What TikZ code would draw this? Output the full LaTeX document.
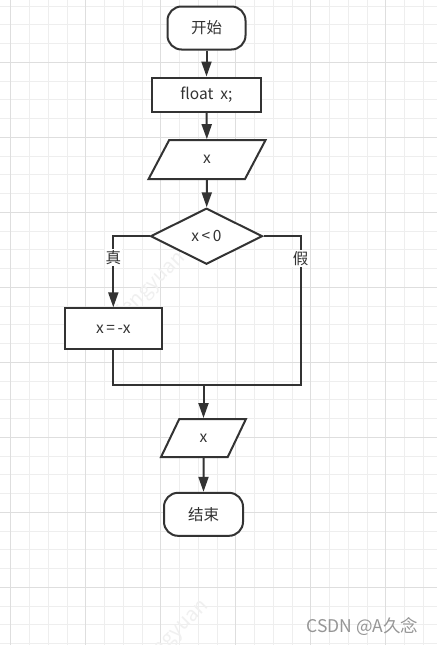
\documentclass[tikz,border=0pt]{standalone}
\usepackage{fontspec}
\setmainfont{Noto Sans CJK SC}
\usepackage{xcolor}
\usepackage{tikz}
\usetikzlibrary{shapes.geometric, arrows.meta, positioning, calc}
\definecolor{inkgray}{RGB}{51,51,51}
\definecolor{minorgrid}{RGB}{238,238,238}
\definecolor{majorgrid}{RGB}{222,222,222}
\definecolor{markgray}{RGB}{150,150,150}

\tikzset{
  base/.style={draw=inkgray, line width=2pt, fill=white, text=inkgray,
    font=\fontsize{15.5}{17}\selectfont, inner sep=0pt},
  terminal/.style={base, rectangle, rounded corners=14pt},
  procbox/.style={base, rectangle},
  iobox/.style={base, trapezium, trapezium stretches=true},
  decision/.style={base, diamond, aspect=2},
  flow/.style={draw=inkgray, line width=2pt, -{Triangle[length=15pt,width=10pt]}},
  wire/.style={draw=inkgray, line width=2pt},
  branch/.style={fill=white, text=inkgray, font=\fontsize{15.5}{17}\selectfont, inner sep=1pt}
}

\begin{document}
\begin{tikzpicture}[x=1pt, y=-1pt]
  \useasboundingbox (0,0) rectangle (437,645);
  \fill[white] (0,0) rectangle (437,645);

  % Grid
  \foreach \i in {0,...,22}
    \draw[minorgrid, line width=0.8pt] (10.7+18.75*\i,0) -- (10.7+18.75*\i,645);
  \foreach \i in {0,...,34}
    \draw[minorgrid, line width=0.8pt] (0,6.05+18.75*\i) -- (437,6.05+18.75*\i);
  \foreach \i in {0,...,5}
    \draw[majorgrid, line width=0.8pt] (10.7+75*\i,0) -- (10.7+75*\i,645);
  \foreach \i in {0,...,8}
    \draw[majorgrid, line width=0.8pt] (0,62.3+75*\i) -- (437,62.3+75*\i);

  % Faint watermarks
  \node[rotate=45, text=gray!12, font=\fontsize{20}{22}\selectfont] (wmA) at (147,290) {qfengyuan};
  \node[rotate=45, text=gray!12, font=\fontsize{20}{22}\selectfont] (wmB) at (170,638) {qfengyuan};

  % Shapes
  \node[terminal, minimum width=78pt, minimum height=43pt] (start) at (206.5,28) {开始};
  \node[procbox, minimum width=109pt, minimum height=34pt] (decl) at (206.5,94.5) {float\ \ x;};
  \node[iobox, trapezium left angle=76, trapezium right angle=104,
        minimum width=117pt, minimum height=39pt] (inx) at (207,159.7) {x};
  \node[decision, minimum width=112pt, minimum height=56pt] (cond) at (206.5,236.2) {x\,<\,0};
  \node[procbox, minimum width=97pt, minimum height=41pt] (neg) at (113.3,328.8) {x\,=\,-x};
  \node[iobox, trapezium left angle=71, trapezium right angle=109,
        minimum width=85pt, minimum height=38pt] (outx) at (203.5,438) {x};
  \node[terminal, minimum width=79pt, minimum height=43pt] (stop) at (203.5,514.3) {结束};

  % Helper points
  \coordinate (lt) at (neg.north |- cond.west);
  \coordinate (rt) at (300.7,236.2);
  \coordinate (join) at (203.5,385);

  % Connectors
  \draw[flow] (start) -- (decl);
  \draw[flow] (decl) -- (inx);
  \draw[flow] (inx) -- (cond);
  \draw[flow] (cond.west) -- (lt) -- node[branch, pos=0.3] (yes) {真} (neg.north);
  \draw[wire] (cond.east) -- (rt) -- node[branch, pos=0.15] (no) {假} (rt |- join) -- (join);
  \draw[wire] (neg.south) |- (join);
  \draw[flow] (join) -- (outx);
  \draw[flow] (outx) -- (stop);

  % Site mark
  \node[anchor=east, text=markgray, font=\fontsize{17.5}{19}\selectfont] (site) at (422,627) {CSDN @A久念};
\end{tikzpicture}
\end{document}
